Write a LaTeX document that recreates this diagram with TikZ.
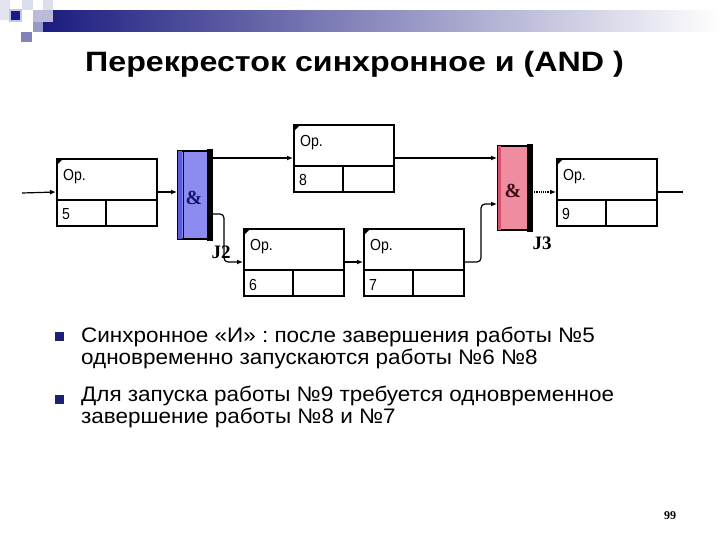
\documentclass[tikz,border=0pt]{standalone}
\usepackage{fontspec}
\setmainfont{Liberation Sans}
\newfontfamily\serifbold{Liberation Serif}
\newfontfamily\titlefont[FakeStretch=1.15]{Liberation Sans}
\newfontfamily\bodyfont[FakeStretch=1.07]{Liberation Sans}
\newfontfamily\boxfont[FakeStretch=0.88]{Liberation Sans}
\usetikzlibrary{arrows.meta,calc}
\definecolor{navy}{RGB}{28,28,128}
\definecolor{bulletblue}{RGB}{30,30,120}
\definecolor{gateblue}{RGB}{140,140,240}
\definecolor{gateblueD}{RGB}{90,90,220}
\definecolor{gatepink}{RGB}{240,140,160}
\definecolor{gatepinkD}{RGB}{215,80,110}
\definecolor{ampblue}{RGB}{20,20,110}
\definecolor{ampred}{RGB}{60,10,20}
\tikzset{
  workbox/.style={draw=black, line width=2.2pt, minimum width=100pt, minimum height=67pt, inner sep=0pt, fill=white},
  divline/.style={line width=2.2pt},
  optext/.style={font=\boxfont\fontsize{16}{16}\selectfont, inner sep=0pt},
  numtext/.style={font=\boxfont\fontsize{16}{16}\selectfont, inner sep=0pt},
  conn/.style={line width=1.2pt, -{Latex[length=6pt,width=5pt]}},
  plain/.style={line width=1.2pt},
  gatebox/.style={draw=black, line width=2pt, minimum width=33pt, inner sep=0pt},
  amp/.style={font=\serifbold\bfseries\fontsize{20}{20}\selectfont, inner sep=0pt},
  jlabel/.style={font=\serifbold\bfseries\fontsize{19}{19}\selectfont, inner sep=0pt},
  bodytext/.style={font=\bodyfont\fontsize{21}{21}\selectfont, inner sep=0pt, anchor=base west},
  bulletsq/.style={fill=bulletblue, draw=none}
}
\newcommand\workbox[4]{%
  \node[workbox, anchor=north west] (#1) at (#2,#3) {};
  \draw[divline] ($(#1.north west)+(0,42)$) -- ($(#1.north east)+(0,42)$);
  \draw[divline] ($(#1.north west)+(50,42)$) -- ($(#1.south west)+(50,0)$);
  \fill ($(#1.north west)+(1,1)$) -- ++(6,0) -- ++(-6,6) -- cycle;
  \node[optext, anchor=base west] (#1-op) at ($(#1.north west)+(7,23)$) {Op.};
  \node[numtext, anchor=base west] (#1-num) at ($(#1.north west)+(6,62)$) {#4};
  \coordinate (#1-in) at ($(#1.north west)+(0,34)$);
  \coordinate (#1-out) at ($(#1.north east)+(0,34)$);
}
\begin{document}
\begin{tikzpicture}[x=1pt,y=-1pt]
\useasboundingbox (0,0) rectangle (720,540);
\fill[white] (0,0) rectangle (720,540);

% header decoration
\fill[white!88!navy] (0,0) rectangle (10,20);
\fill[white!85!navy] (22,0) rectangle (33,10);
\fill[white!85!navy] (43,0) rectangle (53,10);
\shade[left color=navy, right color=white] (43,11) rectangle (720,32);
\fill[white!70!navy] (33,10) rectangle (53,22);
\fill[white!55!navy] (33,22) rectangle (43,32);
\fill[white!45!navy] (21,32) rectangle (32,42);
\fill[white!75!navy] (9,9) rectangle (22,22);
\fill[navy!90!blue] (11,11) rectangle (20,20);

% title
\node[font=\titlefont\bfseries\fontsize{28}{28}\selectfont, inner sep=0pt, anchor=base west] (title) at (85,72) {Перекресток синхронное и (AND )};

% boxes
\workbox{b5}{56}{158}{5}
\workbox{b8}{293}{124}{8}
\workbox{b6}{243}{228}{6}
\workbox{b7}{363}{228}{7}
\workbox{b9}{556}{158}{9}

% gate 1 (blue)
\node[gatebox, fill=gateblue, anchor=north west, minimum height=88pt] (g1) at (177,150) {};
\fill[gateblueD] ($(g1.north west)+(1,1)$) rectangle ($(g1.south west)+(5,-1)$);
\draw[line width=1pt] ($(g1.north west)+(6,0)$) -- ($(g1.south west)+(6,0)$);
\fill[black] ($(g1.north east)+(1,-1)$) rectangle ($(g1.south east)+(-5,1)$);
\node[amp, text=ampblue] (g1-amp) at (194,198) {\&};

% gate 2 (pink)
\node[gatebox, fill=gatepink, anchor=north west, minimum height=84pt] (g2) at (497,145) {};
\fill[gatepinkD] ($(g2.north west)+(1,1)$) rectangle ($(g2.south west)+(4,-1)$);
\fill[black] ($(g2.north east)+(1,-1)$) rectangle ($(g2.south east)+(-5,1)$);
\node[amp, text=ampred] (g2-amp) at (513,191) {\&};

% connection points
\coordinate (src) at (22,193);
\coordinate (sink) at (683,192);
\coordinate (g1-j2) at ($(g1.north east)+(0,64)$);
\coordinate (g2-in2) at ($(g2.north west)+(0,59)$);

% connectors
\draw[conn] (src) -- (b5-in);
\draw[conn] (b5-out) -- (b5-out -| g1.west);
\draw[conn] (g1.east |- b8-in) -- (b8-in);
\draw[conn, rounded corners=4pt] (g1-j2) -| ($(b6-in)+(-19,0)$) -- (b6-in);
\draw[conn] (b6-out) -- (b7-in);
\draw[conn, rounded corners=4pt] (b7-out) -| ($(g2-in2)+(-16,0)$) -- (g2-in2);
\draw[conn] (b8-out) -- (b8-out -| g2.west);
\draw[conn, densely dotted] (g2.east |- b9-in) -- (b9-in);
\draw[plain] (b9-out) -- (sink);

% labels
\node[jlabel] (j2) at (221,252) {J2};
\node[jlabel] (j3) at (542,243) {J3};

% bullets
\fill[bulletsq] (55,332) rectangle (64,341);
\fill[bulletsq] (55,395) rectangle (64,404);
\node[bodytext] (t1) at (81,342) {Синхронное «И» : после завершения работы №5};
\node[bodytext] (t2) at (81,364) {одновременно запускаются работы №6 №8};
\node[bodytext] (t3) at (81,401) {Для запуска работы №9 требуется одновременное};
\node[bodytext] (t4) at (81,423) {завершение работы №8 и №7};

% page number
\node[font=\serifbold\bfseries\fontsize{12}{12}\selectfont, inner sep=0pt] (pg) at (670,516) {99};
\end{tikzpicture}
\end{document}
